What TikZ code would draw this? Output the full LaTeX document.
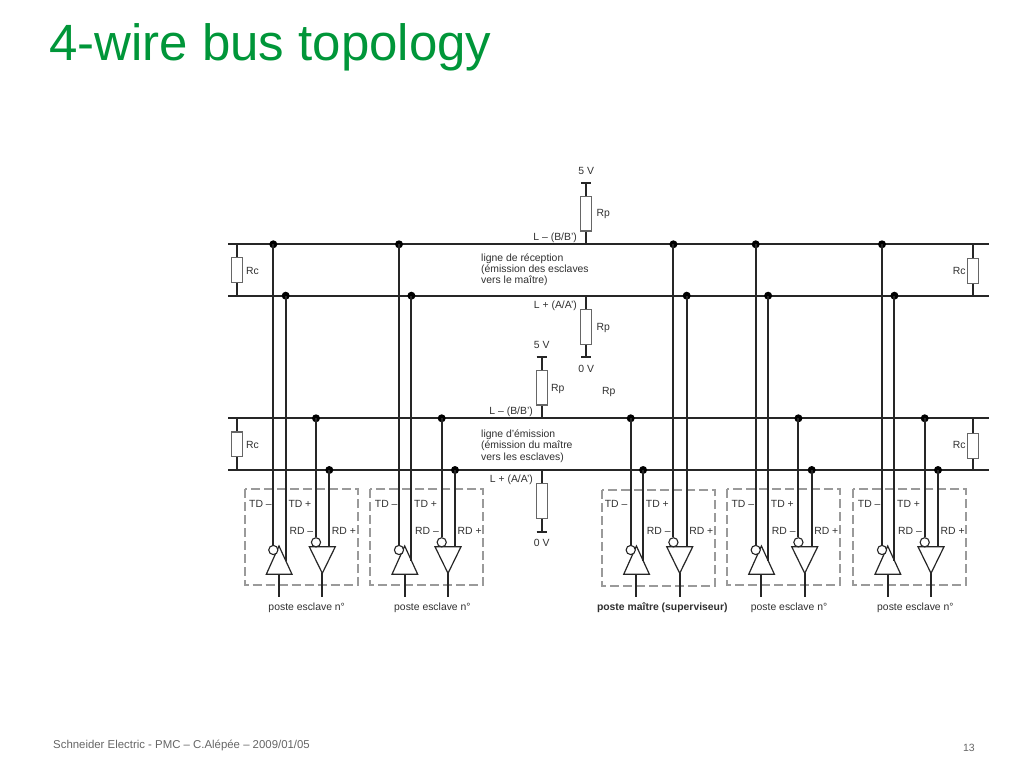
\documentclass[tikz,border=0pt]{standalone}
\usepackage{fontspec}
\setmainfont{Liberation Sans}
\definecolor{titlegreen}{HTML}{009639}
\definecolor{ink}{HTML}{262626}
\definecolor{labelgrey}{HTML}{303030}
\definecolor{partgrey}{HTML}{666666}
\definecolor{framegrey}{HTML}{9A9A9A}
\definecolor{footgrey}{HTML}{666666}
\tikzset{
  wire/.style={draw=ink,line width=2pt},
  joint/.style={circle,fill=black,inner sep=0pt,minimum size=8pt},
  resistor/.style={rectangle,draw=partgrey,fill=white,line width=1.2pt,inner sep=0pt,minimum width=11pt},
  bubble/.style={circle,draw=ink,fill=white,line width=1.1pt,inner sep=0pt,minimum size=9.2pt},
  amp/.style={draw=ink,fill=white,line width=1.2pt,line join=miter},
  framebox/.style={draw=framegrey,line width=2pt,dash pattern=on 9pt off 4pt},
  lab/.style={inner sep=0pt,text=labelgrey,font=\fontsize{10.4}{12}\selectfont},
  labw/.style={lab,anchor=base west},
  labe/.style={lab,anchor=base east},
  labc/.style={lab,anchor=base},
  railbar/.style={draw=ink,line width=2pt}
}
% #1 name, #2 x offset, #3 #4 #5 #6 joints of TD-,TD+,RD-,RD+ (bus y), #7 frame y offset, #8 caption, #9 label nudge
\newcommand{\station}[9]{
  \begin{scope}[xshift=#2pt]
    \draw[framebox] (244.7,489+#7) rectangle (357.7,585+#7);
    \coordinate (#1a) at (279,546);
    \coordinate (#1b) at (292,574.3);
    \coordinate (#1c) at (266.3,574.3);
    \coordinate (#1d) at (309.3,546.7);
    \coordinate (#1e) at (335.3,546.7);
    \coordinate (#1f) at (322.3,573.3);
    \coordinate (#1g) at (279,597);
    \coordinate (#1h) at (322.3,597);
    \coordinate (#1i) at (285.7,560.6);
    \coordinate (#1j) at (329.3,546.7);
    \coordinate (#1k) at (279,574.3);
    \draw[wire] (#1k) -- (#1g);
    \draw[wire] (#1f) -- (#1h);
    \draw[amp] (#1a) -- (#1b) -- (#1c) -- cycle;
    \draw[amp] (#1d) -- (#1e) -- (#1f) -- cycle;
    \node[bubble] (#1b1) at (273.3,550) {};
    \node[bubble] (#1b2) at (316,542.3) {};
    \node[joint] (#1td1) at (273.3,#3) {};
    \node[joint] (#1td2) at (285.7,#4) {};
    \node[joint] (#1rd1) at (316,#5) {};
    \node[joint] (#1rd2) at (329.3,#6) {};
    \draw[wire] (#1td1.center) -- (#1b1.north);
    \draw[wire] (#1td2.center) -- (#1i);
    \draw[wire] (#1rd1.center) -- (#1b2.north);
    \draw[wire] (#1rd2.center) -- (#1j);
    \node[labw] (#1l1) at (249+#9,507.7) {TD –};
    \node[labw] (#1l2) at (288.3,507.7) {TD +};
    \node[labw] (#1l3) at (289.3,534) {RD –};
    \node[labw] (#1l4) at (331.7,534) {RD +};
    \node[labc] (#1l5) at (306.7+#9,610.7) {#8};
  \end{scope}
}
\begin{document}
\begin{tikzpicture}[x=1pt,y=-1pt]
\useasboundingbox[fill=white] (0,0) rectangle (1024,768);
\node[anchor=base west,inner sep=0pt,text=titlegreen,font=\fontsize{51}{56}\selectfont] (title) at (49,60) {4-wire bus topology};
\node[anchor=base west,inner sep=0pt,text=footgrey,font=\fontsize{11.4}{13}\selectfont] (foot) at (53,748) {Schneider Electric - PMC – C.Alépée – 2009/01/05};
\node[anchor=base east,inner sep=0pt,text=footgrey,font=\fontsize{10.5}{12}\selectfont] (page) at (975,751) {13};

% buses
\foreach \n/\y in {A/244.3,B/295.7,C/418.3,D/470}{
  \coordinate (bus\n l) at (228,\y);
  \coordinate (bus\n r) at (989,\y);
  \draw[wire] (bus\n l) -- (bus\n r);
}

% terminating resistors
\foreach \n/\x/\ya/\yb/\yc/\yd in {p/237/244.3/270/295.7/274, q/237/418.3/444.3/470/448.7, r/973/244.3/271/295.7/274, s/973/418.3/446/470/448.7}{
  \coordinate (\n t) at (\x,\ya);
  \coordinate (\n b) at (\x,\yc);
  \node[resistor,minimum height=24.5pt] (\n) at (\x,\yb) {};
  \draw[wire] (\n t) -- (\n.north);
  \draw[wire] (\n.south) -- (\n b);
}
\node[labw] (rc1) at (246,274) {Rc};
\node[labw] (rc2) at (246,448.7) {Rc};
\node[labw] (rc3) at (952.7,274) {Rc};
\node[labw] (rc4) at (952.7,448.7) {Rc};

% pull resistors
\node[resistor,minimum height=34.8pt] (rp1) at (586.2,213.6) {};
\node[resistor,minimum height=34.8pt] (rp2) at (586.2,326.8) {};
\node[resistor,minimum height=34.8pt] (rp3) at (541.7,387.6) {};
\node[resistor,minimum height=34.8pt] (rp4) at (541.7,501) {};
\coordinate (v1) at (586.2,183.3); \coordinate (v1a) at (581,183.3); \coordinate (v1b) at (591.4,183.3);
\coordinate (v2) at (586.2,357.3); \coordinate (v2a) at (581,357.3); \coordinate (v2b) at (591.4,357.3);
\coordinate (v3) at (541.7,357.3); \coordinate (v3a) at (536.5,357.3); \coordinate (v3b) at (546.9,357.3);
\coordinate (v4) at (541.7,531.7); \coordinate (v4a) at (536.5,531.7); \coordinate (v4b) at (546.9,531.7);
\coordinate (t1) at (586.2,244.3); \coordinate (t2) at (586.2,295.7);
\coordinate (t3) at (541.7,418.3); \coordinate (t4) at (541.7,470);
\draw[railbar] (v1a) -- (v1b);
\draw[railbar] (v2a) -- (v2b);
\draw[railbar] (v3a) -- (v3b);
\draw[railbar] (v4a) -- (v4b);
\draw[wire] (v1) -- (rp1.north);
\draw[wire] (rp1.south) -- (t1);
\draw[wire] (t2) -- (rp2.north);
\draw[wire] (rp2.south) -- (v2);
\draw[wire] (v3) -- (rp3.north);
\draw[wire] (rp3.south) -- (t3);
\draw[wire] (t4) -- (rp4.north);
\draw[wire] (rp4.south) -- (v4);

\node[labc] (u1) at (586.2,174.3) {5 V};
\node[labw] (rpa) at (596.3,216.7) {Rp};
\node[labe] (la) at (577,240) {L – (B/B’)};
\node[labw] (t11) at (481,261.3) {ligne de réception};
\node[labw] (t12) at (481,272.7) {(émission des esclaves};
\node[labw] (t13) at (481,283.7) {vers le maître)};
\node[labe] (lb) at (577,308) {L + (A/A’)};
\node[labw] (rpb) at (596.3,330) {Rp};
\node[labc] (u2) at (586.2,372.3) {0 V};
\node[labc] (u3) at (541.7,348.7) {5 V};
\node[labw] (rpc) at (551,391) {Rp};
\node[labw] (rpd) at (602,394) {Rp};
\node[labe] (lc) at (533,414.3) {L – (B/B’)};
\node[labw] (t21) at (481,437) {ligne d’émission};
\node[labw] (t22) at (481,448.3) {(émission du maître};
\node[labw] (t23) at (481,460) {vers les esclaves)};
\node[labe] (ld) at (533,482.3) {L + (A/A’)};
\node[labc] (u4) at (541.7,546.7) {0 V};

% stations
\station{s}{0}{244.3}{295.7}{418.3}{470}{0}{poste esclave n°}{0}
\station{t}{125.7}{244.3}{295.7}{418.3}{470}{0}{poste esclave n°}{0}
\station{m}{357.4}{418.3}{470}{244.3}{295.7}{1.3}{\textbf{poste maître (superviseur)}}{-1.8}
\station{u}{482.4}{244.3}{295.7}{418.3}{470}{0}{poste esclave n°}{0}
\station{v}{608.7}{244.3}{295.7}{418.3}{470}{0}{poste esclave n°}{0}
\end{tikzpicture}
\end{document}
